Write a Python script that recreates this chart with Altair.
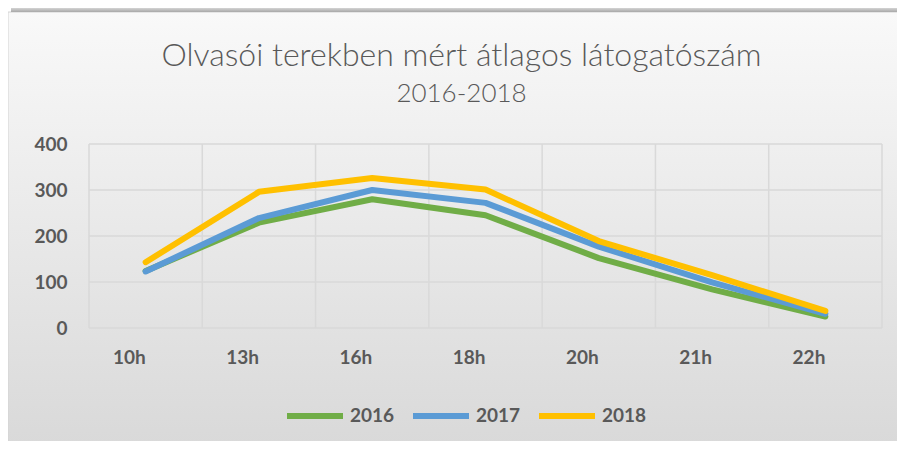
import altair as alt
import pandas as pd

hours = ["10h", "13h", "16h", "18h", "20h", "21h", "22h"]
years = ["2016", "2017", "2018"]
v2016 = [124, 229, 280, 245, 152, 84, 25]
v2017 = [123, 239, 300, 272, 177, 99, 31]
v2018 = [143, 296, 326, 301, 189, 115, 37]
y_ticks = [0, 100, 200, 300, 400]
colors = ["#70ad47", "#5b9bd5", "#ffc000"]

rows = []
for yr, vals in zip(years, [v2016, v2017, v2018]):
    for h, v in zip(hours, vals):
        rows.append({"hour": h, "year": yr, "value": v})
df = pd.DataFrame(rows)

W, H = 793, 184
FONT = "Lato"
GRID = "#d9d9d9"

xscale = alt.Scale(type="band", domain=hours, paddingInner=0, paddingOuter=0)
yscale = alt.Scale(domain=[0, 400])

bg = alt.Chart(alt.Data(values=[{}])).mark_rect(
    color=alt.LinearGradient(
        gradient="linear",
        stops=[alt.GradientStop(color="#f9f9f9", offset=0),
               alt.GradientStop(color="#d9d9d9", offset=1)],
        x1=0, x2=0, y1=0, y2=1),
    stroke="#d4d4d4", strokeWidth=1,
).encode(x=alt.value(-81), x2=alt.value(812), y=alt.value(-132), y2=alt.value(300))

shadow = alt.Chart(alt.Data(values=[{}])).mark_rect(
    color=alt.LinearGradient(
        gradient="linear",
        stops=[alt.GradientStop(color="#ffffff", offset=0),
               alt.GradientStop(color="#a8a8a8", offset=1)],
        x1=0, x2=0, y1=0, y2=1),
).encode(x=alt.value(-78), x2=alt.value(812), y=alt.value(-140), y2=alt.value(-132))

hgrid = alt.Chart(pd.DataFrame({"t": y_ticks})).mark_rule(
    color=GRID, strokeWidth=1.5
).encode(y=alt.Y("t:Q", scale=yscale), x=alt.value(0), x2=alt.value(W))

vgrid = alt.Chart(pd.DataFrame({"hour": hours})).mark_rule(
    color=GRID, strokeWidth=1.5
).encode(x=alt.X("hour:N", scale=xscale, bandPosition=0), y=alt.value(0), y2=alt.value(H))

vgrid_end = alt.Chart(pd.DataFrame({"hour": hours[-1:]})).mark_rule(
    color=GRID, strokeWidth=1.5
).encode(x=alt.X("hour:N", scale=xscale, bandPosition=1), y=alt.value(0), y2=alt.value(H))

lines = alt.Chart(df).mark_line(strokeWidth=6, strokeCap="round", strokeJoin="round").encode(
    x=alt.X("hour:N", scale=xscale, bandPosition=0.5, sort=hours,
            axis=alt.Axis(title=None, domain=False, ticks=False, grid=False, zindex=1,
                          labelAngle=0, labelPadding=29, labelFontSize=19,
                          labelFontWeight="bold", labelColor="#595959", labelFont=FONT)),
    y=alt.Y("value:Q", scale=yscale,
            axis=alt.Axis(title=None, domain=False, ticks=False, grid=False, zindex=1,
                          values=y_ticks, labelPadding=22, labelFontSize=19,
                          labelFontWeight="bold", labelColor="#595959", labelFont=FONT)),
    color=alt.Color("year:N", scale=alt.Scale(domain=years, range=colors),
                    legend=alt.Legend(title=None, orient="none", direction="horizontal",
                                      legendX=195, legendY=241, symbolType="stroke",
                                      symbolSize=3136, symbolStrokeWidth=6,
                                      labelFontSize=19, labelFontWeight="bold",
                                      labelColor="#595959", labelFont=FONT,
                                      labelOffset=4, columnPadding=6, padding=0)),
    order=alt.Order("year:N"),
)

chart = alt.layer(bg, shadow, hgrid, vgrid, vgrid_end, lines).properties(
    width=W, height=H,
    autosize=alt.AutoSizeParams(type="none"),
    padding={"left": 81, "top": 136, "right": 15, "bottom": 113},
    background="white",
    title=alt.TitleParams(
        text="Olvasói terekben mért átlagos látogatószám",
        subtitle="2016-2018",
        fontSize=32, font=FONT, fontWeight=300, color="#595959",
        subtitleFontSize=26, subtitleFont=FONT, subtitleFontWeight=300,
        subtitleColor="#595959", subtitlePadding=8,
        anchor="middle", dx=-24, offset=-104),
).configure_view(stroke=None)

chart.save("out.html", embed_options={"renderer": "svg", "actions": False})
